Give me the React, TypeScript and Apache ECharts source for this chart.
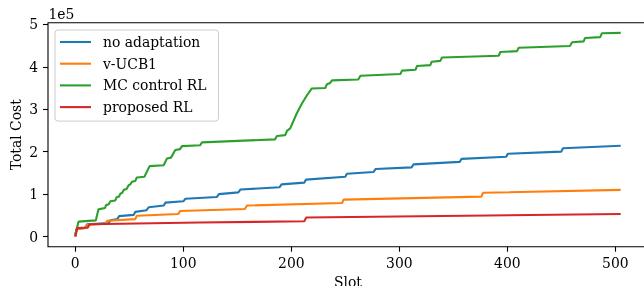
import React, { useEffect, useRef } from "react";
import * as echarts from "echarts";

// [slot, total cost]
const noAdaptation: [number, number][] = [
  [0, 0], [1, 17000], [9, 20000], [11, 29000], [31, 32000], [32.5, 38000], [39, 41000], [40.5, 48000],
  [54, 51000], [55.5, 58000], [66, 62000], [68, 69000], [82, 73000], [83.5, 80000], [100, 83000],
  [102, 89000], [131, 93000], [133, 100000], [151, 104000], [153, 111000], [189, 116000], [191, 123000],
  [212, 127000], [213.5, 134000], [250, 141000], [251.5, 148000], [276, 152000], [278, 159000],
  [311.5, 163000], [313, 170000], [356, 176000], [357.5, 183000], [399, 188000], [400.5, 195000],
  [450, 200000], [451.5, 208000], [505, 214000],
];
const vUcb1: [number, number][] = [
  [0, 0], [1, 17000], [9, 20000], [11, 27000], [28, 30000], [29.5, 37000], [55.5, 41000], [57, 49000],
  [95.5, 53000], [97, 60000], [157, 65000], [159, 73000], [247, 79000], [248.5, 87000], [376, 94000],
  [377.5, 103000], [505, 110000],
];
const mcControlRl: [number, number][] = [
  [0, 5000], [3, 35000], [19, 38000], [21.5, 64000], [27.5, 67000], [28.5, 74000], [31, 76000],
  [32.5, 83000], [37, 85000], [38.5, 93000], [40.5, 94000], [41.7, 101000], [43.5, 103000],
  [45, 110000], [47.5, 112000], [49.4, 121000], [51, 123000], [52.5, 129000], [55.5, 131000],
  [57, 139000], [64, 141000], [68.8, 166000], [81.8, 168000], [84.9, 184000],
  [88.6, 186000], [92.6, 204000], [97, 206000], [98.8, 213000], [115.7, 215000], [117.3, 222000],
  [185, 229000], [186.7, 237000], [194.4, 239000], [196, 249000], [199, 255000], [205, 290000],
  [210, 314000], [214.5, 333000], [219, 349000], [231.5, 350000], [233, 359000], [236, 362000],
  [237.7, 368000], [262, 370000], [264, 379000], [301, 383000], [302.5, 391000], [315, 393000],
  [316.4, 402000], [328.7, 404000], [330, 412000], [338, 414000], [339.5, 422000], [392, 426000],
  [393.5, 435000], [409, 437000], [410.5, 445000], [458, 449000], [460, 458000], [470.7, 460000],
  [472, 468000], [486, 470000], [487.5, 479000], [505, 480000],
];
const proposedRl: [number, number][] = [
  [0, 0], [2, 20000], [11.5, 21000], [13.3, 29000], [115, 33000], [212, 36000], [213.9, 45000],
  [505, 53000],
];

const seriesNames = ["no adaptation", "v-UCB1", "MC control RL", "proposed RL"];
const seriesColors = ["#1f77b4", "#ff7f0e", "#2ca02c", "#d62728"];
const xTicks = [0, 100, 200, 300, 400, 500];
const yTicks = [0, 100000, 200000, 300000, 400000, 500000];

const FONT = "DejaVu Serif";
const FS = 13.9;

export default function App() {
  const ref = useRef<HTMLDivElement>(null);
  useEffect(() => {
    if (!ref.current) return;
    const chart = echarts.init(ref.current, undefined, { renderer: "svg" });
    const data = [noAdaptation, vUcb1, mcControlRl, proposedRl];
    chart.setOption({
      animation: false,
      textStyle: { fontFamily: FONT, fontSize: FS, color: "#000" },
      grid: {
        left: 48,
        top: 22.7,
        width: 600,
        height: 224,
        show: true,
        borderColor: "#000",
        borderWidth: 1.1,
        backgroundColor: "transparent",
        containLabel: false,
        outerBoundsMode: "none",
      },
      legend: {
        show: true,
        left: 55,
        top: 30,
        orient: "vertical",
        icon: "rect",
        itemWidth: 31,
        itemHeight: 2.1,
        itemGap: 7.7,
        padding: [5, 12, 7, 5],
        backgroundColor: "rgba(255,255,255,0.8)",
        borderColor: "#cccccc",
        borderWidth: 1,
        borderRadius: 3,
        data: seriesNames,
        textStyle: { fontFamily: FONT, fontSize: FS, color: "#000", lineHeight: 14, padding: [0, 0, 0, 7] },
      },
      xAxis: {
        type: "value",
        min: -25.25,
        max: 530.25,
        name: "Slot",
        nameLocation: "middle",
        nameGap: 27,
        nameTextStyle: { fontFamily: FONT, fontSize: FS, color: "#000" },
        splitLine: { show: false },
        axisLine: { show: false, onZero: false },
        axisTick: { show: true, length: 5, inside: false, customValues: xTicks, lineStyle: { color: "#000", width: 1.1 } },
        axisLabel: {
          show: true,
          customValues: xTicks,
          margin: 9,
          fontFamily: FONT,
          fontSize: FS,
          color: "#000",
          formatter: (v: number) => String(v),
        },
      },
      yAxis: {
        type: "value",
        min: -24000,
        max: 504000,
        splitLine: { show: false },
        axisLine: { show: false, onZero: false },
        axisTick: { show: true, length: 5, inside: false, customValues: yTicks, lineStyle: { color: "#000", width: 1.1 } },
        axisLabel: {
          show: true,
          customValues: yTicks,
          margin: 10,
          fontFamily: FONT,
          fontSize: FS,
          color: "#000",
          formatter: (v: number) => String(Math.round(v / 100000)),
        },
      },
      graphic: [
        {
          type: "text",
          left: 48.5,
          top: 7,
          style: { text: "1e5", fontFamily: FONT, fontSize: FS, fill: "#000" },
        },
        {
          type: "text",
          x: 16,
          y: 134.7,
          rotation: Math.PI / 2,
          style: {
            text: "Total Cost",
            fontFamily: FONT,
            fontSize: FS,
            fill: "#000",
            align: "center",
            verticalAlign: "middle",
          },
        },
      ],
      series: data.map((d, i) => ({
        name: seriesNames[i],
        type: "line",
        data: d,
        showSymbol: false,
        symbol: "none",
        color: seriesColors[i],
        lineStyle: { color: seriesColors[i], width: 2.1 },
        emphasis: { disabled: true },
        z: 2 + i,
      })),
    });
    return () => chart.dispose();
  }, []);
  return <div ref={ref} style={{ position: "fixed", left: 0, top: 0, width: 644, height: 286 }} />;
}
